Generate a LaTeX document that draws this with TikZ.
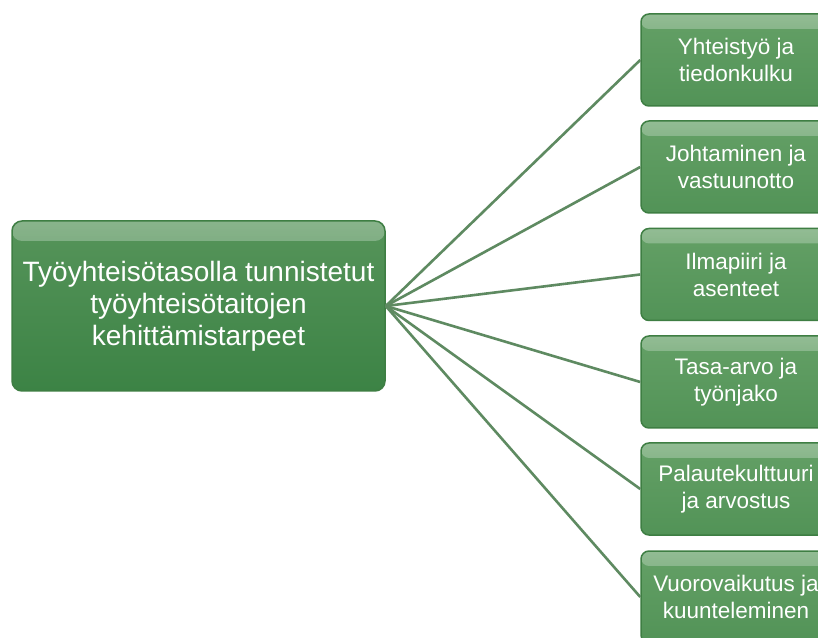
\documentclass[tikz,border=0pt]{standalone}
\usepackage{fontspec}
\usetikzlibrary{fadings}
\setmainfont{Liberation Sans}
\definecolor{gtop}{HTML}{56945A}
\definecolor{gmid}{HTML}{468C4D}
\definecolor{gbot}{HTML}{3C8345}
\definecolor{ltop}{HTML}{64A066}
\definecolor{lmid}{HTML}{5A9A5E}
\definecolor{lbot}{HTML}{529357}
\definecolor{gedge}{HTML}{3E7E43}
\definecolor{gline}{HTML}{5E8A61}
\tikzset{
  gloss/.style = {path picture = {\fill [white, opacity = .3, path fading = south] ([yshift = -#1]path picture bounding box.north west) rectangle (path picture bounding box.north east);}},
  mainbox/.style = {draw = gedge, line width = 1.5, rounded corners = 10, top color = gtop, middle color = gmid, bottom color = gbot, gloss = 20,
    minimum width = 373, minimum height = 170, inner sep = 2, align = center, text = white, font = \fontsize{28}{32}\selectfont},
  topicbox/.style = {draw = gedge, line width = 1.5, rounded corners = 8, top color = ltop, middle color = lmid, bottom color = lbot, gloss = 15,
    minimum width = 190, minimum height = 92, inner sep = 2, align = center, text = white, font = \fontsize{22.5}{27}\selectfont},
  link/.style = {gline, line width = 2.6}
}
\begin{document}
\begin{tikzpicture}[x = 1pt, y = 1pt]
        \useasboundingbox (0, 0) rectangle (818, 637);
        \clip (0, 0) rectangle (818, 637);
        \fill [white] (0, 0) rectangle (818, 637);
        \node [mainbox] (main) at (198.5, 331) {Työyhteisötasolla tunnistetut\\työyhteisötaitojen\\kehittämistarpeet};
        \node [topicbox] (yht) at (736, 577) {Yhteistyö ja\\tiedonkulku};
        \node [topicbox] (joh) at (736, 470) {Johtaminen ja\\vastuunotto};
        \node [topicbox] (ilm) at (736, 362.5) {Ilmapiiri ja\\asenteet};
        \node [topicbox] (tas) at (736, 255) {Tasa-arvo ja\\työnjako};
        \node [topicbox] (pal) at (736, 148) {Palautekulttuuri\\ja arvostus};
        \node [topicbox] (vuo) at (736, 40) {Vuorovaikutus ja\\kuunteleminen};
        \draw [link] (main.east) -- (yht.west);
        \draw [link] (main.east) -- (joh.west);
        \draw [link] (main.east) -- (ilm.west);
        \draw [link] (main.east) -- (tas.west);
        \draw [link] (main.east) -- (pal.west);
        \draw [link] (main.east) -- (vuo.west);
    \end{tikzpicture}
\end{document}
